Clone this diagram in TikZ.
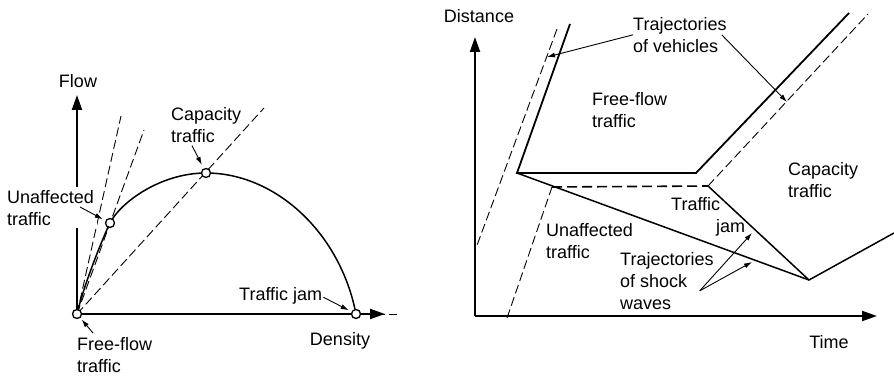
\documentclass[tikz,border=0pt]{standalone}
\usepackage{fontspec}
\setmainfont{Liberation Sans}
\usetikzlibrary{arrows.meta}

\begin{document}
\begin{tikzpicture}[x=1pt, y=-1pt,
    lbl/.style={align=left, inner sep=0pt, font=\fontsize{18}{22}\selectfont},
    axis/.style={-{Triangle[length=15pt, width=10pt]}, line width=2pt},
    trj/.style={line width=1.8pt},
    guide/.style={line width=0.9pt, dash pattern=on 9pt off 4pt},
    stopped/.style={line width=1.6pt, dash pattern=on 10pt off 5pt},
    pointer/.style={-{Latex[length=8pt, width=5pt]}, line width=0.9pt},
    state/.style={circle, draw, fill=white, line width=1.3pt, inner sep=0pt, minimum size=9pt}]
  \useasboundingbox (0,0) rectangle (894,377);

  % flow-density diagram
  \coordinate (o1) at (77,314);
  \coordinate (fy) at (77,95);
  \coordinate (fx) at (385,314);
  \coordinate (fxe) at (397,314);
  \coordinate (ffl) at (121,116);
  \coordinate (unl) at (144,130);
  \coordinate (capl) at (264,108);
  \draw[guide] (o1) -- (fxe);
  \draw[guide] (o1) -- (ffl);
  \draw[guide] (o1) -- (unl);
  \draw[guide] (o1) -- (capl);
  \draw[axis] (o1) -- (fy);
  \draw[axis] (o1) -- (fx);
  \draw[line width=1.5pt] (o1) .. controls (84,284) and (104,235) .. (110,223)
    .. controls (120,203) and (160,173) .. (206,173)
    .. controls (275,173) and (340,232) .. (356,314);
  \node[state] (ff)  at (o1) {};
  \node[state] (un)  at (110,223) {};
  \node[state] (cap) at (206,173) {};
  \node[state] (jam) at (356,314) {};

  \node[lbl] (flow) at (78,81) {Flow};
  \node[lbl] (dens) at (340,341) {Density};
  \node[lbl, anchor=north west] (captxt) at (171,107) {Capacity\\traffic};
  \node[lbl, anchor=north west, fill=white, inner sep=3pt] (untxt) at (4,187) {Unaffected\\traffic};
  \node[lbl, anchor=north west] (fftxt) at (77,337) {Free-flow\\traffic};
  \node[lbl, anchor=north west] (jamtxt) at (239,287) {Traffic jam};
  \draw[pointer, shorten >=4pt] (captxt.south west) ++(21,3) -- (cap);
  \draw[pointer, shorten >=3pt] (untxt.north west) ++(76,20) -- (un);
  \draw[pointer, shorten >=2pt] (fftxt.north west) ++(16,-4) -- (ff);
  \draw[pointer, shorten >=3pt] (jamtxt.base east) ++(1,-3) -- (jam);

  % time-distance diagram
  \coordinate (o2) at (475,316);
  \coordinate (ty) at (475,37);
  \coordinate (tx) at (877,316);
  \coordinate (a1) at (570,24);
  \coordinate (b1) at (517,173);
  \coordinate (c1) at (696,173);
  \coordinate (d1) at (849,13);
  \coordinate (e1) at (809,280);
  \coordinate (f1) at (708,186);
  \coordinate (g1) at (894,233);
  \coordinate (a2) at (557,29);
  \coordinate (b2) at (476,248);
  \coordinate (c2) at (507,318);
  \coordinate (d2) at (552,187);
  \coordinate (e2) at (868,14);
  \draw[axis] (o2) -- (ty);
  \draw[axis] (o2) -- (tx);
  \draw[guide] (a2) -- (b2);
  \draw[guide] (c2) -- (d2);
  \draw[stopped] (d2) -- (f1);
  \draw[guide] (f1) -- (e2);
  \draw[trj] (a1) -- (b1) -- (c1) -- (d1);
  \draw[line width=1.5pt] (b1) -- (e1) -- (g1);
  \draw[line width=1.5pt] (f1) -- (e1);

  \node[lbl] (dist) at (479,16) {Distance};
  \node[lbl] (time) at (829,342) {Time};
  \node[lbl, anchor=north west] (vehtxt) at (633,17) {Trajectories\\of vehicles};
  \node[lbl, anchor=north west] (freetxt) at (592,92) {Free-flow\\traffic};
  \node[lbl, anchor=north west] (capatxt) at (788,162) {Capacity\\traffic};
  \node[lbl, anchor=north west] (jamtxt2) at (671,197) {Traffic\\\hspace*{45pt}jam};
  \node[lbl, anchor=north west] (unatxt) at (546,223) {Unaffected\\traffic};
  \node[lbl, anchor=north west] (shocktxt) at (620,252) {Trajectories\\of shock\\waves};
  \coordinate (v1) at (547,57);
  \coordinate (v2) at (787,102);
  \coordinate (s1) at (752,233);
  \coordinate (s2) at (752,262);
  \draw[pointer] (vehtxt.west) -- (v1);
  \draw[pointer] (vehtxt.east) ++(-5,0) -- (v2);
  \draw[pointer] (shocktxt.east) ++(-14,10) coordinate (s0) -- (s1);
  \draw[pointer] (s0) -- (s2);
\end{tikzpicture}
\end{document}
